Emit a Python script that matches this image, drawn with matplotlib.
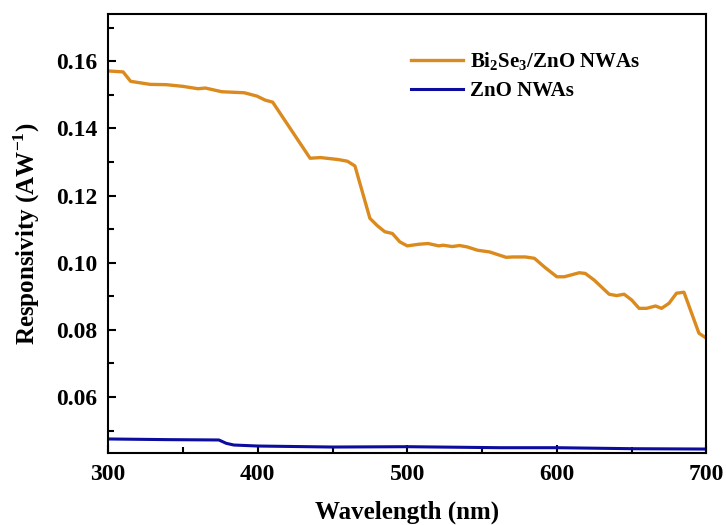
import matplotlib
matplotlib.use('Agg')
import matplotlib.pyplot as plt
from matplotlib.ticker import MultipleLocator

plt.rcParams['font.family'] = ['Liberation Serif', 'DejaVu Serif']
plt.rcParams['font.weight'] = 'bold'
plt.rcParams['mathtext.fontset'] = 'custom'
plt.rcParams['mathtext.rm'] = 'Liberation Serif:bold'
plt.rcParams['mathtext.bf'] = 'Liberation Serif:bold'

# Bi2Se3/ZnO NWAs
wl_bi = [300, 310, 315, 328, 339, 350, 360, 365, 376, 391, 399.5, 405, 410,
         435, 442, 454, 460, 465, 475, 480, 485, 490, 495, 500, 508, 514, 521,
         524, 530, 535, 540, 547, 555, 566, 571, 579, 585, 592, 600, 605, 615,
         619, 625, 635, 640, 645, 650, 655, 660, 666, 670, 675, 680, 685, 695, 700]
resp_bi = [0.1571, 0.1568, 0.1540, 0.1531, 0.1530, 0.1525, 0.1518, 0.1520, 0.1509,
           0.1506, 0.1496, 0.1484, 0.1478, 0.1311, 0.1313, 0.1307, 0.1302, 0.1288,
           0.1132, 0.1110, 0.1092, 0.1087, 0.1062, 0.1050, 0.1055, 0.1057, 0.1050,
           0.1052, 0.1048, 0.1051, 0.1047, 0.1037, 0.1032, 0.1016, 0.1017, 0.1017,
           0.1013, 0.0986, 0.0958, 0.0958, 0.0970, 0.0968, 0.0948, 0.0906, 0.0902,
           0.0906, 0.0889, 0.0864, 0.0864, 0.0871, 0.0864, 0.0879, 0.0909, 0.0912,
           0.0790, 0.0775]

# ZnO NWAs
wl_zno = [300, 340, 374, 379, 384, 400, 450, 500, 562, 600, 651, 700]
resp_zno = [0.0475, 0.0473, 0.0472, 0.0462, 0.0457, 0.0454, 0.0451, 0.0452,
            0.0449, 0.0449, 0.0446, 0.0445]

fig = plt.figure(figsize=(7.26, 5.25), dpi=100)
ax = fig.add_axes([0.149, 0.137, 0.824, 0.836])

ax.plot(wl_bi, resp_bi, color='#DB8A1E', linewidth=2.4,
        label=r'Bi$_{2}$Se$_{3}$/ZnO NWAs')
ax.plot(wl_zno, resp_zno, color='#0C0C9E', linewidth=2.2, label='ZnO NWAs')

ax.set_xlim(300, 700)
ax.set_ylim(0.0433, 0.174)
ax.xaxis.set_major_locator(MultipleLocator(100))
ax.xaxis.set_minor_locator(MultipleLocator(50))
ax.yaxis.set_major_locator(MultipleLocator(0.02))
ax.yaxis.set_minor_locator(MultipleLocator(0.01))
ax.tick_params(which='both', direction='in', top=False, right=False, width=1.5)
ax.tick_params(which='major', length=6, labelsize=17, pad=8)
ax.tick_params(which='minor', length=4)
for s in ax.spines.values():
    s.set_linewidth(1.5)

ax.set_xlabel('Wavelength (nm)', fontsize=18, fontweight='bold', labelpad=11)
ax.set_ylabel(r'Responsivity (AW$^{-1}$)', fontsize=18, fontweight='bold', labelpad=10)

ax.legend(loc='upper right', bbox_to_anchor=(0.92, 0.96), frameon=False,
          fontsize=15, handlelength=2.5, handletextpad=0.3, labelspacing=0.4)

fig.savefig('out.png', dpi=100)
